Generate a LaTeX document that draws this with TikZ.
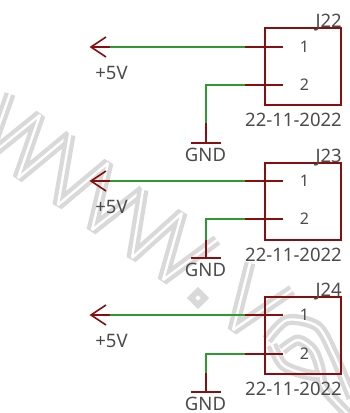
\documentclass[tikz,border=0pt]{standalone}
\usepackage{fontspec}
\setmainfont{Noto Sans}
\usetikzlibrary{positioning}
\definecolor{pinred}{RGB}{135,15,15}
\definecolor{wiregreen}{RGB}{45,155,45}
\definecolor{labelgray}{RGB}{75,75,75}
\definecolor{markgray}{RGB}{217,217,217}

\begin{document}
\begin{tikzpicture}[
                x=1pt, y=-1pt,
                pin/.style={draw=pinred, line width=1.6pt},
                wire/.style={draw=wiregreen, line width=1.6pt},
                connbox/.style={rectangle, draw=pinred, line width=2pt, minimum width=76pt, minimum height=77pt, inner sep=0pt},
                txt/.style={text=labelgray, font=\fontsize{18.5}{18.5}\selectfont, inner sep=0pt},
                pinno/.style={text=labelgray, font=\fontsize{16}{16}\selectfont, inner sep=0pt},
                wmark/.style={draw=markgray, line width=11pt, line join=bevel, postaction={draw=white, line width=2.4pt}}
            ]
                \useasboundingbox (0,0) rectangle (350,413);
                \fill[white] (0,0) rectangle (350,413);

                % watermark
                \draw[wmark] (10,94) -- (-12,157) -- (40,115) -- (18,178) -- (70,135);
                \draw[wmark] (70,135) -- (58,205) -- (108,163) -- (92,230) -- (143,190);
                \draw[wmark] (143,190) -- (132,258) -- (182,213) -- (163,280) -- (217,240);
                \draw[draw=markgray, line width=6pt, fill=white, line join=miter] (198,291) -- (205,298) -- (198,305) -- (191,298) -- cycle;
                \draw[wmark] (250,263) -- (233,330) -- (292,290);
                \draw[wmark] plot[smooth] coordinates {(267,340) (287,320) (317,326) (333,353) (352,398)};
                \draw[wmark] plot[smooth] coordinates {(282,350) (298,340) (313,350) (320,368) (324,388) (350,416)};
                \draw[wmark] plot[smooth] coordinates {(272,345) (283,365) (305,374) (320,376)};

                \foreach \num/\top/\pa/\pb/\gnd/\split in {22/27/47/85/143/123, 23/162/181/219/258/240, 24/296/315/354/392/373} {
                    \node[connbox, anchor=north west] (j\num) at (264,\top) {};
                    \node[txt, anchor=base east] (ref\num) at (j\num.north east) {J\num};
                    \node[txt, anchor=base east, yshift=-20pt] (date\num) at (j\num.south east) {22-11-2022};

                    \coordinate (pina\num) at (283,\pa);
                    \coordinate (pinb\num) at (283,\pb);
                    \coordinate (joina\num) at (245,\pa);
                    \coordinate (joinb\num) at (245,\pb);
                    \node[pinno, anchor=center] (noa\num) at (304.5,\pa) {1};
                    \node[pinno, anchor=center] (nob\num) at (304.5,\pb) {2};

                    \coordinate (tip\num) at (91,\pa);
                    \coordinate (stub\num) at (110,\pa);
                    \node[txt, anchor=center] (vcc\num) at (111.5,\pa+26) {+5V};

                    \coordinate (corner\num) at (206,\pb);
                    \coordinate (drop\num) at (206,\split);
                    \coordinate (bar\num) at (206,\gnd);
                    \coordinate (barl\num) at (191,\gnd);
                    \coordinate (barr\num) at (221,\gnd);
                    \node[txt, anchor=center] (gnd\num) at (205.5,\gnd+12) {GND};

                    \draw[wire] (stub\num) -- (joina\num);
                    \draw[pin] (joina\num) -- (pina\num);
                    \draw[wire] (drop\num) -- (corner\num) -- (joinb\num);
                    \draw[pin] (joinb\num) -- (pinb\num);
                    \draw[pin] (drop\num) -- (bar\num);
                    \draw[pin] (barl\num) -- (barr\num);
                    \draw[pin] (stub\num) -- (tip\num);
                    \draw[pin] ([shift={(15,-10)}]tip\num) -- (tip\num) -- ([shift={(15,10)}]tip\num);
                }
            \end{tikzpicture}
\end{document}
